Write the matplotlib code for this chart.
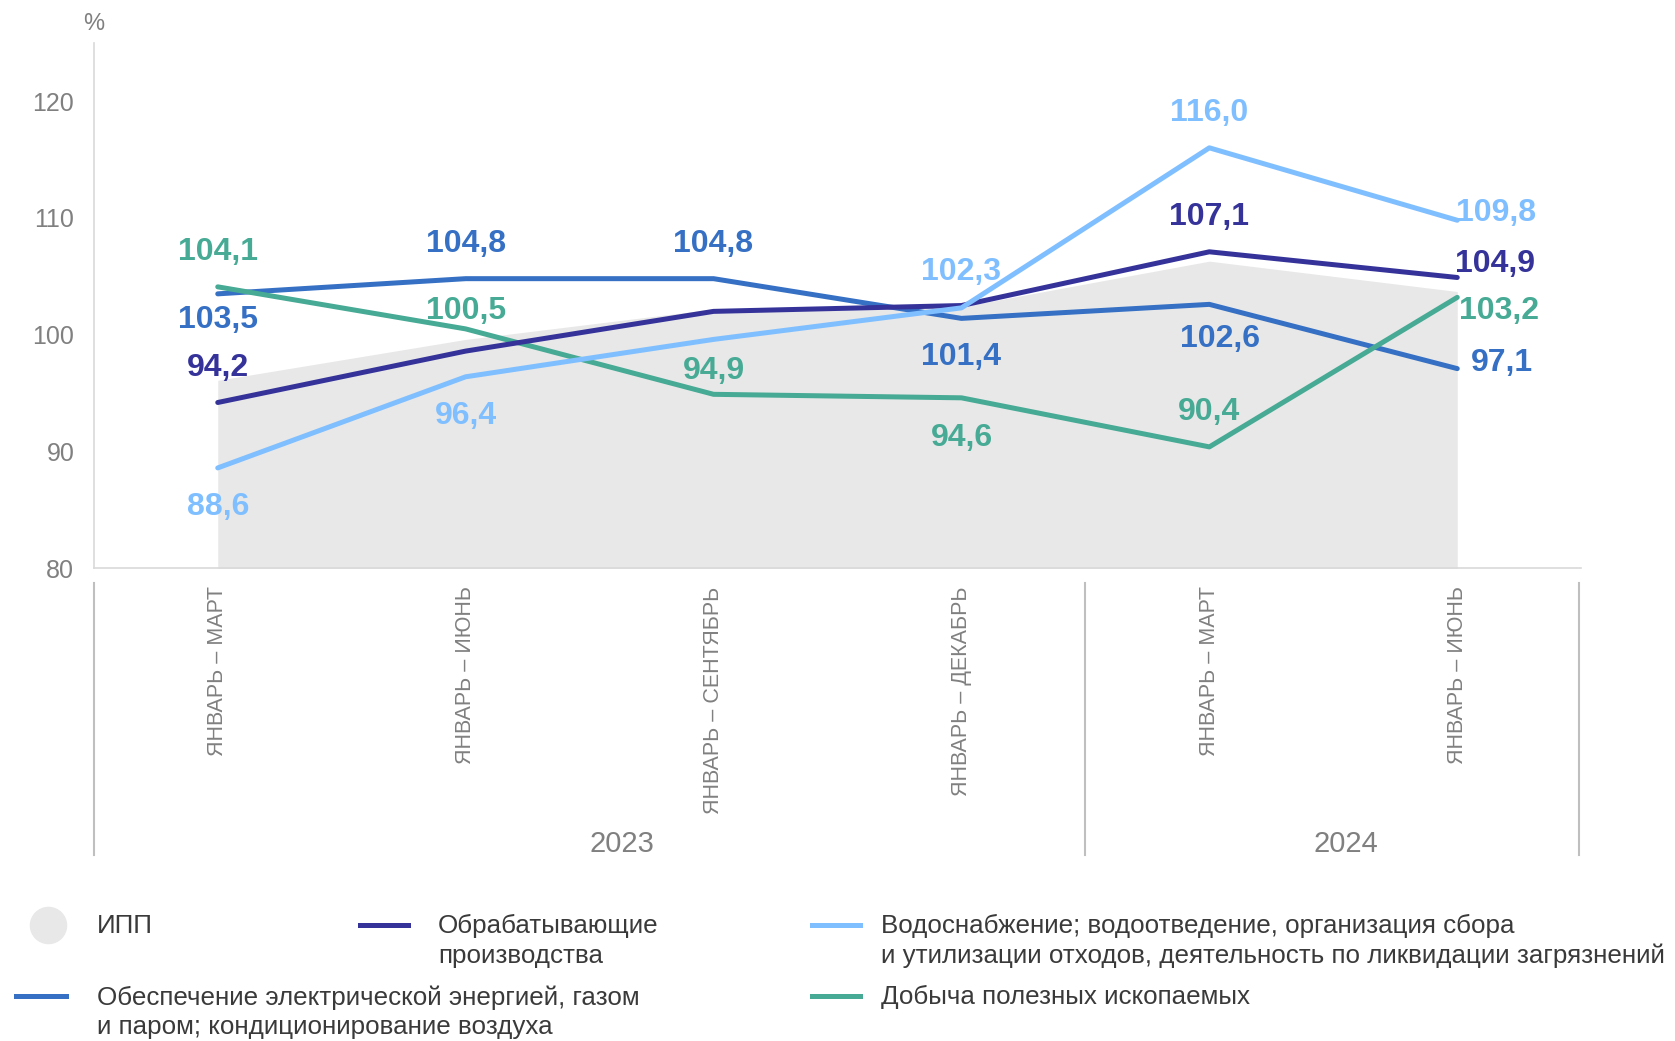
import matplotlib.pyplot as plt
from matplotlib.lines import Line2D

plt.rcParams['font.family'] = ['Liberation Sans', 'DejaVu Sans']

# --- data ---
periods = ['ЯНВАРЬ – МАРТ', 'ЯНВАРЬ – ИЮНЬ', 'ЯНВАРЬ – СЕНТЯБРЬ',
           'ЯНВАРЬ – ДЕКАБРЬ', 'ЯНВАРЬ – МАРТ', 'ЯНВАРЬ – ИЮНЬ']
years = ['2023', '2024']
ipp = [96.1, 99.6, 102.2, 102.4, 106.3, 103.7]
manufacturing = [94.2, 98.6, 102.0, 102.5, 107.1, 104.9]
energy = [103.5, 104.8, 104.8, 101.4, 102.6, 97.1]
water = [88.6, 96.4, 99.6, 102.3, 116.0, 109.8]
mining = [104.1, 100.5, 94.9, 94.6, 90.4, 103.2]

names = ['ИПП', 'Обрабатывающие\nпроизводства',
         'Обеспечение электрической энергией, газом\nи паром; кондиционирование воздуха',
         'Водоснабжение; водоотведение, организация сбора\nи утилизации отходов, деятельность по ликвидации загрязнений',
         'Добыча полезных ископаемых']

c_ipp = '#E8E8E8'
c_man = '#35339A'
c_en = '#3570C4'
c_wat = '#80BFFF'
c_min = '#46AA94'
grey = '#808080'

# label offsets in points (None = no label)
off_man = [(0, 25), None, None, None, (0, 25), (27, 10)]
off_en = [(0, -19), (0, 25), (0, 25), (0, -28), (8, -25), (32, 4)]
off_wat = [(0, -28), (0, -28), None, (0, 26), (0, 25), (28, 5)]
off_min = [(0, 25), (0, 13), (0, 17), (0, -29), (0, 25), (30, -10)]

fig = plt.figure(figsize=(16.75, 10.41), dpi=100)
ax = fig.add_axes([0.056, 0.454, 0.888, 0.505])

x = list(range(len(periods)))
ax.fill_between(x, 80, ipp, color=c_ipp, lw=0, zorder=1)

series = [(energy, c_en, off_en), (mining, c_min, off_min),
          (manufacturing, c_man, off_man), (water, c_wat, off_wat)]
for i, (vals, col, offs) in enumerate(series):
    ax.plot(x, vals, color=col, lw=3.6, solid_capstyle='round',
            solid_joinstyle='round', zorder=3 + i)
    for xi, v, o in zip(x, vals, offs):
        if o is None:
            continue
        ax.annotate(f'{v:.1f}'.replace('.', ','), (xi, v), xytext=o,
                    textcoords='offset points', ha='center', va='center',
                    fontsize=23, fontweight='bold', color=col, zorder=10)

ax.set_xlim(-0.5, 5.5)
ax.set_ylim(80, 125)
ax.set_yticks([80, 90, 100, 110, 120])
ax.set_xticks(x)
ax.set_xticklabels(periods, rotation=90, va='top', ha='center')
ax.tick_params(axis='x', length=0, pad=13, labelsize=15.5, labelcolor=grey)
ax.tick_params(axis='y', length=0, pad=14, labelsize=18, labelcolor=grey)
for s in ['top', 'right']:
    ax.spines[s].set_visible(False)
for s in ['left', 'bottom']:
    ax.spines[s].set_color('#D9D9D9')
    ax.spines[s].set_linewidth(1.2)

ax.text(0.0, 1.035, '%', transform=ax.transAxes, fontsize=17, color=grey,
        ha='center', va='center')

# year separators and labels
tr = ax.get_xaxis_transform()
for sx in [-0.5, 3.5, 5.49]:
    ax.plot([sx, sx], [-0.027, -0.545], transform=tr, color='#BFBFBF',
            lw=1.5, clip_on=False)
ax.text(1.63, -0.525, years[0], transform=tr, ha='center', va='center',
        fontsize=21, color=grey)
ax.text(4.55, -0.525, years[1], transform=tr, ha='center', va='center',
        fontsize=21, color=grey)

# legend
W, H = 1675, 1041
def fx(p):
    return p / W
def fy(p):
    return 1 - p / H

txt_kw = dict(fontsize=18.7, color='#3a3a3a', va='top', linespacing=1.3)
fig.add_artist(Line2D([fx(48)], [fy(925)], marker='o', ms=26, color=c_ipp,
                      transform=fig.transFigure))
fig.text(fx(97), fy(914), names[0], **txt_kw)

handles = [(360, 408, 925, c_man, 438, names[1]),
           (16, 66, 996, c_en, 97, names[2]),
           (812, 860, 925, c_wat, 881, names[3]),
           (812, 860, 996, c_min, 881, names[4])]
for x0, x1, yy, col, tx, label in handles:
    fig.add_artist(Line2D([fx(x0), fx(x1)], [fy(yy), fy(yy)], color=col,
                          lw=3.6, transform=fig.transFigure))
    fig.text(fx(tx), fy(yy - 11), label, **txt_kw)

fig.savefig('out.png', dpi=100)
